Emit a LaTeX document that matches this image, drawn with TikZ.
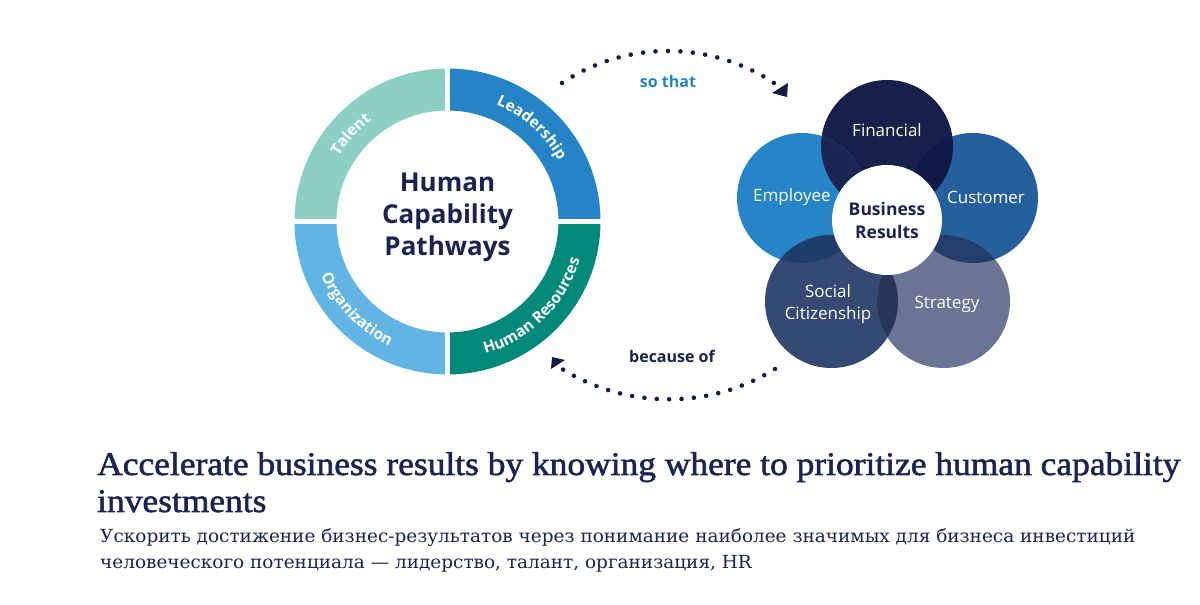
\documentclass[tikz,border=0pt]{standalone}
\usepackage{fontspec}
\setmainfont{Open Sans}
\newfontfamily\serifen[FakeBold=1.6]{Liberation Serif}
\newfontfamily\serifru{DejaVu Serif}
\usepackage{graphicx}
\usetikzlibrary{calc,decorations.text,decorations.markings}
\definecolor{navy}{HTML}{1B2350}
\definecolor{dotnavy}{HTML}{141C45}
\definecolor{talent}{HTML}{8CD0C5}
\definecolor{lead}{HTML}{2484C6}
\definecolor{hrc}{HTML}{00897B}
\definecolor{org}{HTML}{62B4E5}
\definecolor{fin}{HTML}{16204A}
\definecolor{emp}{HTML}{2585C7}
\definecolor{cus}{HTML}{255F9E}
\definecolor{soc}{HTML}{354A72}
\definecolor{str}{HTML}{6A7593}
\definecolor{finemp}{HTML}{1A2652}
\definecolor{fincus}{HTML}{121947}
\definecolor{cusstr}{HTML}{243E6C}
\definecolor{empsoc}{HTML}{1F3E6B}
\definecolor{socstr}{HTML}{283659}
\definecolor{sothat}{HTML}{2484C6}
\newcommand\ringlab{\fontsize{15.5}{18}\selectfont\bfseries}
\begin{document}
\begin{tikzpicture}[x=1pt,y=1pt,
  petal/.style={font=\fontsize{17}{21}\selectfont, text=white, align=center},
  ringtext/.style={decorate, decoration={text along path, text align=center, text color=white, text={#1}}},
  dotted arc/.style={decorate, decoration={markings, mark=between positions 0 and 1 step 0.0555 with {\fill[dotnavy] (0,0) circle[radius=2.3];}}},
  linklabel/.style={font=\fontsize{16}{19}\selectfont\bfseries}]
\useasboundingbox (0,0) rectangle (1200,605);
\fill[white] (0,0) rectangle (1200,605);

% ---- ring ----
\coordinate (C) at (447.5,383.5);
\foreach \a/\b/\c in {90/180/talent, 0/90/lead, -90/0/hrc, 180/270/org}
  \fill[\c] ($(C)+(\a:153)$) arc[start angle=\a, end angle=\b, radius=153]
    -- ($(C)+(\b:111)$) arc[start angle=\b, end angle=\a, radius=111] -- cycle;
\draw[white, line width=5pt] ($(C)+(-158,0)$) -- ($(C)+(158,0)$);
\draw[white, line width=5pt] ($(C)+(0,-158)$) -- ($(C)+(0,158)$);

\path[ringtext={|\ringlab|Talent}] ($(C)+(180:126.5)$) arc[start angle=180, end angle=96, radius=126.5];
\path[ringtext={|\ringlab|Leadership}] ($(C)+(90:126.5)$) arc[start angle=90, end angle=6, radius=126.5];
\path[ringtext={|\ringlab|Human Resources}] ($(C)+(-87:137.5)$) arc[start angle=-87, end angle=-3, radius=137.5];
\path[ringtext={|\ringlab|Organization}] ($(C)+(182:137.5)$) arc[start angle=182, end angle=266, radius=137.5];

\node[font=\fontsize{26}{32}\selectfont\bfseries, text=navy, align=center] (hcp) at (447.5,388) {Human\\Capability\\Pathways};

% ---- petals ----
\node[circle, minimum size=132, inner sep=0, fill=fin] (pfin) at (887,459) {};
\node[circle, minimum size=130, inner sep=0, fill=emp] (pemp) at (802,407) {};
\node[circle, minimum size=130, inner sep=0, fill=cus] (pcus) at (973,407) {};
\node[circle, minimum size=133, inner sep=0, fill=soc] (psoc) at (831.5,303.5) {};
\node[circle, minimum size=133, inner sep=0, fill=str] (pstr) at (943.5,303.5) {};
\begin{scope}\clip (pfin.center) circle[radius=66];\fill[finemp] (pemp.center) circle[radius=65];\end{scope}
\begin{scope}\clip (pfin.center) circle[radius=66];\fill[fincus] (pcus.center) circle[radius=65];\end{scope}
\begin{scope}\clip (pcus.center) circle[radius=65];\fill[cusstr] (pstr.center) circle[radius=66.5];\end{scope}
\begin{scope}\clip (pemp.center) circle[radius=65];\fill[empsoc] (psoc.center) circle[radius=66.5];\end{scope}
\begin{scope}\clip (psoc.center) circle[radius=66.5];\fill[socstr] (pstr.center) circle[radius=66.5];\end{scope}
\node[circle, minimum size=110, inner sep=0, fill=white] (br) at (887,385) {};
\node[font=\fontsize{17.5}{23}\selectfont\bfseries, text=navy, align=center] (brt) at (887,384.5) {Business\\Results};

\node[petal] (tfin) at (887,475) {Financial};
\node[petal] (temp) at (792,408) {Employee};
\node[petal] (tcus) at (986,408) {Customer};
\node[petal, font=\fontsize{17}{22}\selectfont] (tsoc) at (828,301) {Social\\Citizenship};
\node[petal] (tstr) at (947,301) {Strategy};

% ---- connectors ----
\coordinate (ta) at (562,522);
\coordinate (bb) at (775,236);
\path[dotted arc] (ta) arc[start angle=123.6, end angle=56.4, radius=191.6];
\fill[dotnavy] (787,508) -- (772,512) -- (788,522) -- cycle;
\path[dotted arc] (bb) arc[start angle=-58.2, end angle=-121.5, radius=202];
\fill[dotnavy] (552,248) -- (551,236) -- (565,245) -- cycle;
\node[linklabel, text=sothat] (so) at (668,523) {so that};
\node[linklabel, text=navy] (bc) at (672,249) {because of};

% ---- bottom text ----
\node[anchor=base west, inner sep=0, text=navy] (head) at (97,130)
  {\resizebox{1083pt}{\height}{\serifen\fontsize{33}{37}\selectfont\begin{tabular}[t]{@{}l@{}}Accelerate business results by knowing where to prioritize human capability\\investments\end{tabular}}};
\node[anchor=base west, inner sep=0, text=navy] (ru) at (100,62)
  {\resizebox{1035pt}{\height}{\serifru\fontsize{18}{25}\selectfont\begin{tabular}[t]{@{}l@{}}Ускорить достижение бизнес-результатов через понимание наиболее значимых для бизнеса инвестиций\\человеческого потенциала — лидерство, талант, организация, HR\end{tabular}}};
\end{tikzpicture}
\end{document}
